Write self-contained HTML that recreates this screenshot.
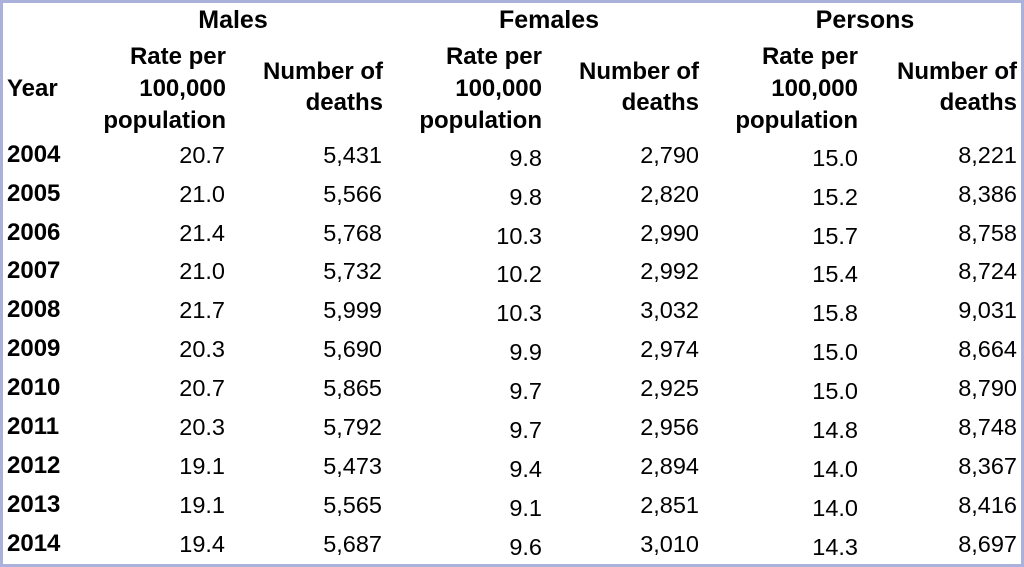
<!DOCTYPE html>
<html><head><meta charset="utf-8"><style>
html,body{margin:0;padding:0}
body{width:1024px;height:567px;position:relative;background:#fff;font-family:"Liberation Sans",Arial,sans-serif;color:#000;overflow:hidden}
.frame{position:absolute;left:0;top:0;width:1018px;height:561px;border:3px solid #aab2dc}
.t{position:absolute;font-size:23.5px;line-height:26px;white-space:nowrap}
.b{font-weight:bold;font-size:24px}
.h{font-size:25px}
.r{text-align:right}
.c{text-align:center}
</style></head><body>
<div class="frame"></div>
<div class="t b h c" style="left:133px;width:200px;top:7px">Males</div>
<div class="t b h c" style="left:449px;width:200px;top:7px">Females</div>
<div class="t b h c" style="left:765px;width:200px;top:7px">Persons</div>
<div class="t b" style="left:7px;top:76px">Year</div>

<div class="t b r" style="left:26px;width:200px;top:44px">Rate per</div>
<div class="t b r" style="left:26px;width:200px;top:76px">100,000</div>
<div class="t b r" style="left:26px;width:200px;top:108px">population</div>
<div class="t b r" style="left:183px;width:200px;top:59px">Number of</div>
<div class="t b r" style="left:183px;width:200px;top:90px">deaths</div>

<div class="t b r" style="left:342px;width:200px;top:44px">Rate per</div>
<div class="t b r" style="left:342px;width:200px;top:76px">100,000</div>
<div class="t b r" style="left:342px;width:200px;top:108px">population</div>
<div class="t b r" style="left:499px;width:200px;top:59px">Number of</div>
<div class="t b r" style="left:499px;width:200px;top:90px">deaths</div>

<div class="t b r" style="left:658px;width:200px;top:44px">Rate per</div>
<div class="t b r" style="left:658px;width:200px;top:76px">100,000</div>
<div class="t b r" style="left:658px;width:200px;top:108px">population</div>
<div class="t b r" style="left:817px;width:200px;top:59px">Number of</div>
<div class="t b r" style="left:817px;width:200px;top:90px">deaths</div>

<div style="position:absolute;left:0;top:142px">
<div class="t b" style="left:7px;top:0">2004</div><div class="t r" style="left:125px;width:100px;top:0">20.7</div><div class="t r" style="left:282px;width:100px;top:0">5,431</div><div class="t r" style="left:442px;width:100px;top:3px">9.8</div><div class="t r" style="left:599px;width:100px;top:0">2,790</div><div class="t r" style="left:758px;width:100px;top:3px">15.0</div><div class="t r" style="left:917px;width:100px;top:0">8,221</div>
<div class="t b" style="left:7px;top:39px">2005</div><div class="t r" style="left:125px;width:100px;top:39px">21.0</div><div class="t r" style="left:282px;width:100px;top:39px">5,566</div><div class="t r" style="left:442px;width:100px;top:42px">9.8</div><div class="t r" style="left:599px;width:100px;top:39px">2,820</div><div class="t r" style="left:758px;width:100px;top:42px">15.2</div><div class="t r" style="left:917px;width:100px;top:39px">8,386</div>
<div class="t b" style="left:7px;top:78px">2006</div><div class="t r" style="left:125px;width:100px;top:78px">21.4</div><div class="t r" style="left:282px;width:100px;top:78px">5,768</div><div class="t r" style="left:442px;width:100px;top:81px">10.3</div><div class="t r" style="left:599px;width:100px;top:78px">2,990</div><div class="t r" style="left:758px;width:100px;top:81px">15.7</div><div class="t r" style="left:917px;width:100px;top:78px">8,758</div>
<div class="t b" style="left:7px;top:116px">2007</div><div class="t r" style="left:125px;width:100px;top:116px">21.0</div><div class="t r" style="left:282px;width:100px;top:116px">5,732</div><div class="t r" style="left:442px;width:100px;top:119px">10.2</div><div class="t r" style="left:599px;width:100px;top:116px">2,992</div><div class="t r" style="left:758px;width:100px;top:119px">15.4</div><div class="t r" style="left:917px;width:100px;top:116px">8,724</div>
<div class="t b" style="left:7px;top:155px">2008</div><div class="t r" style="left:125px;width:100px;top:155px">21.7</div><div class="t r" style="left:282px;width:100px;top:155px">5,999</div><div class="t r" style="left:442px;width:100px;top:158px">10.3</div><div class="t r" style="left:599px;width:100px;top:155px">3,032</div><div class="t r" style="left:758px;width:100px;top:158px">15.8</div><div class="t r" style="left:917px;width:100px;top:155px">9,031</div>
<div class="t b" style="left:7px;top:194px">2009</div><div class="t r" style="left:125px;width:100px;top:194px">20.3</div><div class="t r" style="left:282px;width:100px;top:194px">5,690</div><div class="t r" style="left:442px;width:100px;top:197px">9.9</div><div class="t r" style="left:599px;width:100px;top:194px">2,974</div><div class="t r" style="left:758px;width:100px;top:197px">15.0</div><div class="t r" style="left:917px;width:100px;top:194px">8,664</div>
<div class="t b" style="left:7px;top:233px">2010</div><div class="t r" style="left:125px;width:100px;top:233px">20.7</div><div class="t r" style="left:282px;width:100px;top:233px">5,865</div><div class="t r" style="left:442px;width:100px;top:236px">9.7</div><div class="t r" style="left:599px;width:100px;top:233px">2,925</div><div class="t r" style="left:758px;width:100px;top:236px">15.0</div><div class="t r" style="left:917px;width:100px;top:233px">8,790</div>
<div class="t b" style="left:7px;top:272px">2011</div><div class="t r" style="left:125px;width:100px;top:272px">20.3</div><div class="t r" style="left:282px;width:100px;top:272px">5,792</div><div class="t r" style="left:442px;width:100px;top:275px">9.7</div><div class="t r" style="left:599px;width:100px;top:272px">2,956</div><div class="t r" style="left:758px;width:100px;top:275px">14.8</div><div class="t r" style="left:917px;width:100px;top:272px">8,748</div>
<div class="t b" style="left:7px;top:311px">2012</div><div class="t r" style="left:125px;width:100px;top:311px">19.1</div><div class="t r" style="left:282px;width:100px;top:311px">5,473</div><div class="t r" style="left:442px;width:100px;top:314px">9.4</div><div class="t r" style="left:599px;width:100px;top:311px">2,894</div><div class="t r" style="left:758px;width:100px;top:314px">14.0</div><div class="t r" style="left:917px;width:100px;top:311px">8,367</div>
<div class="t b" style="left:7px;top:350px">2013</div><div class="t r" style="left:125px;width:100px;top:350px">19.1</div><div class="t r" style="left:282px;width:100px;top:350px">5,565</div><div class="t r" style="left:442px;width:100px;top:353px">9.1</div><div class="t r" style="left:599px;width:100px;top:350px">2,851</div><div class="t r" style="left:758px;width:100px;top:353px">14.0</div><div class="t r" style="left:917px;width:100px;top:350px">8,416</div>
<div class="t b" style="left:7px;top:389px">2014</div><div class="t r" style="left:125px;width:100px;top:389px">19.4</div><div class="t r" style="left:282px;width:100px;top:389px">5,687</div><div class="t r" style="left:442px;width:100px;top:392px">9.6</div><div class="t r" style="left:599px;width:100px;top:389px">3,010</div><div class="t r" style="left:758px;width:100px;top:392px">14.3</div><div class="t r" style="left:917px;width:100px;top:389px">8,697</div>
</div>
</body></html>
